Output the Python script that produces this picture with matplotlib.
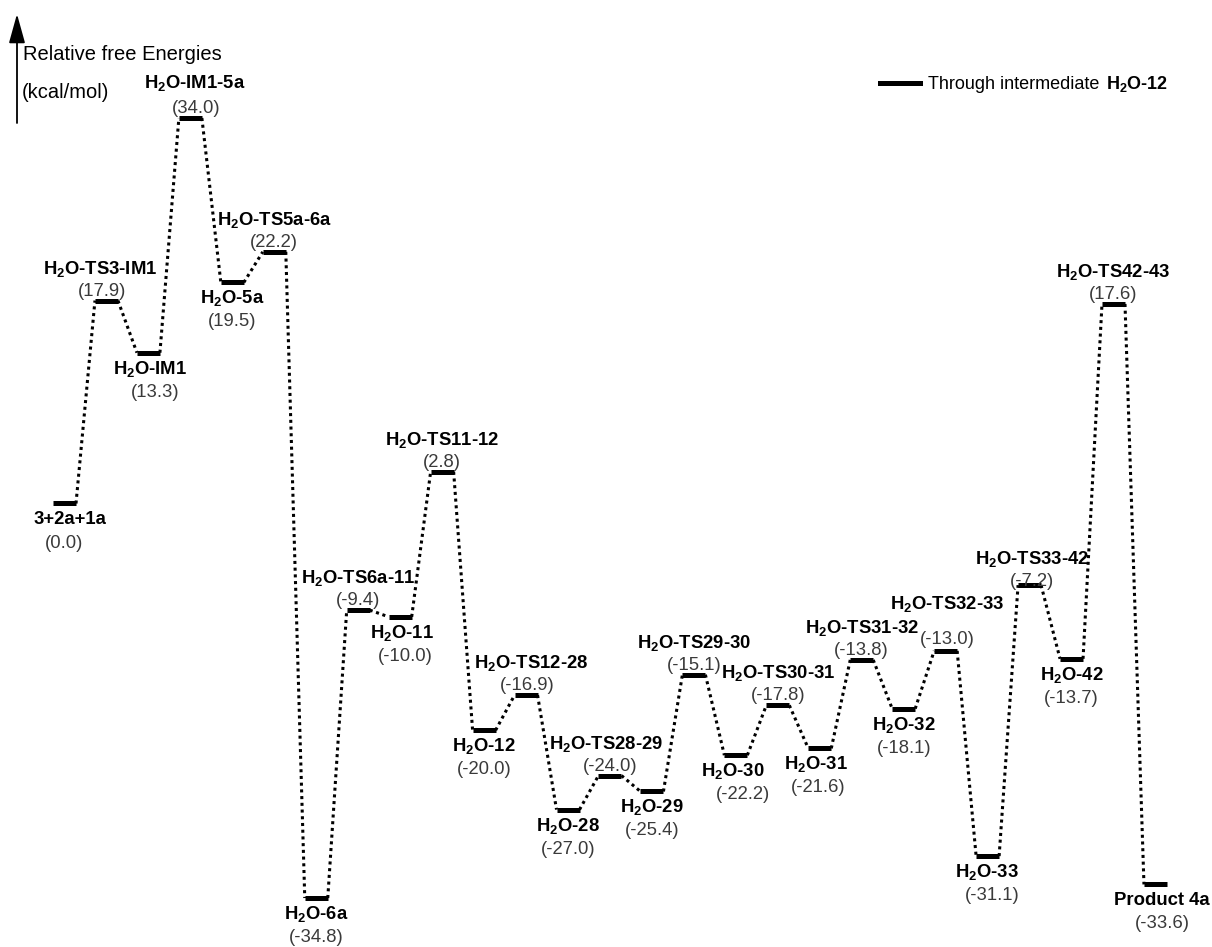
import matplotlib
matplotlib.use("Agg")
import matplotlib.pyplot as plt

plt.rcParams['font.family'] = ['Liberation Sans', 'DejaVu Sans']
plt.rcParams['mathtext.fontset'] = 'custom'
plt.rcParams['mathtext.rm'] = 'Liberation Sans'
plt.rcParams['mathtext.bf'] = 'Liberation Sans:bold'

# states along the path (order = reaction coordinate)
states = ["3+2a+1a", "H2O-TS3-IM1", "H2O-IM1", "H2O-IM1-5a", "H2O-5a", "H2O-TS5a-6a",
          "H2O-6a", "H2O-TS6a-11", "H2O-11", "H2O-TS11-12", "H2O-12", "H2O-TS12-28",
          "H2O-28", "H2O-TS28-29", "H2O-29", "H2O-TS29-30", "H2O-30", "H2O-TS30-31",
          "H2O-31", "H2O-TS31-32", "H2O-32", "H2O-TS32-33", "H2O-33", "H2O-TS33-42",
          "H2O-42", "H2O-TS42-43", "Product 4a"]
energies = [0.0, 17.9, 13.3, 34.0, 19.5, 22.2,
            -34.8, -9.4, -10.0, 2.8, -20.0, -16.9,
            -27.0, -24.0, -25.4, -15.1, -22.2, -17.8,
            -21.6, -13.8, -18.1, -13.0, -31.1, -7.2,
            -13.7, 17.6, -33.6]

# label placement: 'a' above the level, 'b' below
side = ['b', 'a', 'b', 'a', 'b', 'a', 'b', 'a', 'b', 'a', 'b', 'a', 'b', 'a',
        'b', 'a', 'b', 'a', 'b', 'a', 'b', 'a', 'b', 'a', 'b', 'a', 'b']
# small tweaks (pixels): index -> (name dx, name dy, value dx, value dy)
tweak = {0: (5, 0, 0, 0), 1: (-6, 0, -4, 0), 2: (2, 0, 7, 0), 3: (4, 3, 6, 0),
         8: (2, 0, 5, 0), 11: (5, 0, 1, 0), 13: (-4, 0, 0, 0), 16: (-3, 0, 7, 0),
         18: (-4, 0, -2, 0), 21: (1, 15, 2, 2), 22: (-1, 0, 5, 0),
         23: (2, -6, 2, -6), 26: (6, 0, 7, 0)}

W, H = 1212, 947
px_x = 41.96      # pixels per step
px_y = 11.337     # pixels per kcal/mol
x0_px, y0_px = 64.5, 503.5
half = 11.5 / px_x

fig = plt.figure(figsize=(W / 100, H / 100), dpi=100)
ax = fig.add_axes([0, 0, 1, 1])
ax.set_xlim(-x0_px / px_x, (W - x0_px) / px_x)
ax.set_ylim(-(H - y0_px) / px_y, y0_px / px_y)
ax.axis('off')


def fmt(name):
    return name.replace("H2O", r"H$_\mathbf{2}$O")


xs = list(range(len(states)))
for i in xs:
    e = energies[i]
    ax.plot([i - half, i + half], [e, e], color='black', lw=3.6, solid_capstyle='butt')
    if i < len(states) - 1:
        ax.plot([i + half, i + 1 - half], [e, energies[i + 1]], color='black',
                lw=2.2, linestyle=(0, (1, 1.2)))

    ndx, ndy, vdx, vdy = tweak.get(i, (0, 0, 0, 0))
    if side[i] == 'a':
        n_off, v_off = 27 + ndy, 5 + vdy
    else:
        n_off, v_off = -21 + ndy, -44 + vdy
    ax.annotate(fmt(states[i]), (i, e), xytext=(ndx, n_off), textcoords='offset pixels',
                ha='center', va='baseline', fontsize=13.3, fontweight='bold', color='black')
    ax.annotate("(%.1f)" % e, (i, e), xytext=(vdx, v_off), textcoords='offset pixels',
                ha='center', va='baseline', fontsize=13.3, color='#3a3a3a')

# energy axis arrow
ax.annotate('', xy=(17, H - 14), xytext=(17, H - 123), xycoords='figure pixels',
            textcoords='figure pixels',
            arrowprops=dict(arrowstyle='-|>,head_length=0.9,head_width=0.25',
                            lw=1.3, color='black', mutation_scale=20, shrinkA=0, shrinkB=0))
fig.text(23 / W, 1 - 60 / H, "Relative free Energies", fontsize=14.5, ha='left', va='baseline')
fig.text(22 / W, 1 - 98 / H, "(kcal/mol)", fontsize=14.5, ha='left', va='baseline')

# legend
fig.add_artist(plt.Line2D([880 / W, 920 / W], [1 - 83 / H, 1 - 83 / H], color='black',
                          lw=3.6, transform=fig.transFigure))
fig.text(928 / W, 1 - 89 / H, "Through intermediate", fontsize=13, ha='left', va='baseline')
fig.text(1106 / W, 1 - 89 / H, r"H$_\mathbf{2}$O-12", fontsize=13, fontweight='bold',
         ha='left', va='baseline')

fig.savefig("out.png", dpi=100, facecolor='white')
